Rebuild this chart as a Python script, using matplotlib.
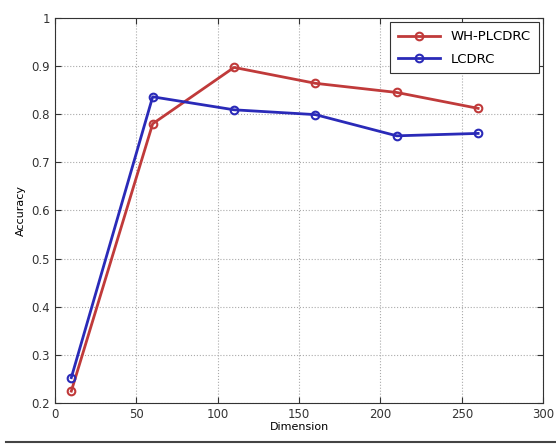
import matplotlib
matplotlib.use('Agg')
import matplotlib.pyplot as plt
from matplotlib.lines import Line2D
from matplotlib.ticker import FormatStrFormatter, MultipleLocator

dims = [10, 60, 110, 160, 210, 260]
acc_whplcdrc = [0.225, 0.78, 0.897, 0.864, 0.845, 0.812]
acc_lcdrc = [0.253, 0.836, 0.809, 0.799, 0.755, 0.760]
names = ['WH-PLCDRC', 'LCDRC']

fig = plt.figure(figsize=(5.56, 4.45), dpi=100)
ax = fig.add_axes([0.099, 0.094, 0.878, 0.866])

ax.plot(dims, acc_whplcdrc, '-o', color='#c03a3a', lw=2, ms=5.5,
        mfc='none', mew=1.5, label=names[0])
ax.plot(dims, acc_lcdrc, '-o', color='#2a2ab8', lw=2, ms=5.5,
        mfc='none', mew=1.5, label=names[1])

ax.set_xlim(0, 300)
ax.set_ylim(0.2, 1.0)
ax.xaxis.set_major_locator(MultipleLocator(50))
ax.yaxis.set_major_locator(MultipleLocator(0.1))
ax.yaxis.set_major_formatter(FormatStrFormatter('%g'))
ax.grid(True, ls=':', color='#aaaaaa', lw=0.8)
ax.tick_params(direction='in', top=True, right=True, labelsize=8.5,
               colors='#333333', length=4)
for s in ax.spines.values():
    s.set_color('#333333')

ax.set_xlabel('Dimension', fontsize=8, labelpad=1)
ax.set_ylabel('Accuracy', fontsize=8, labelpad=4)

leg = ax.legend(loc='upper right', fontsize=9.5, fancybox=False,
                edgecolor='#333333', framealpha=1, handlelength=3.2,
                borderpad=0.6, labelspacing=0.7, borderaxespad=0.35)
leg.get_frame().set_linewidth(0.8)

# rule along the bottom edge
fig.add_artist(Line2D([0.01, 1.0], [0.006, 0.006], color='#444444', lw=1.5,
                      transform=fig.transFigure))

fig.savefig('out.png', dpi=100)
